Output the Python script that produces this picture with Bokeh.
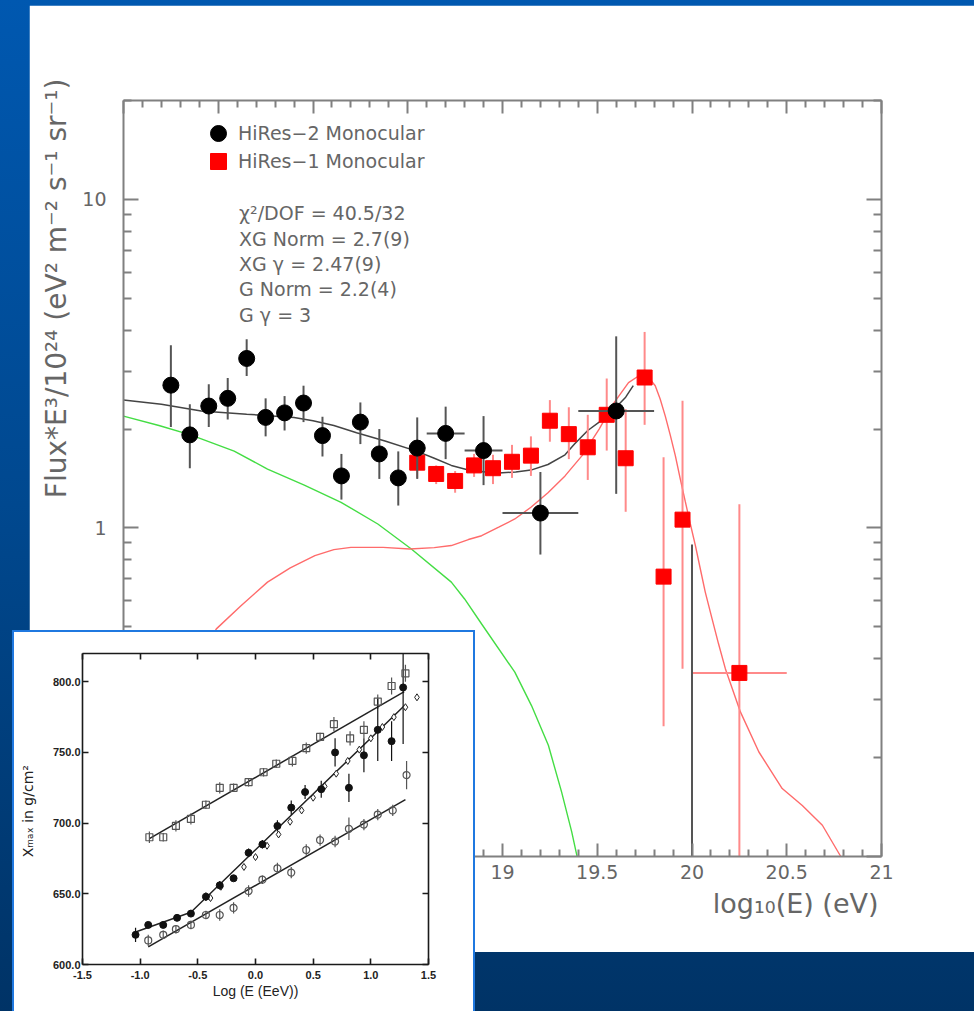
from bokeh.plotting import figure
from bokeh.models import (Range1d, FixedTicker, LinearAxis, LogAxis, Legend, LegendItem, Div, Column, Title)
from bokeh.core.properties import value
from bokeh.embed import file_html
from bokeh.resources import INLINE

# ---------------- main spectrum data ----------------
hr2_x = [17.25, 17.35, 17.45, 17.55, 17.65, 17.75, 17.85, 17.95, 18.05, 18.15, 18.25, 18.35, 18.45, 18.55,
         18.70, 18.90, 19.20, 19.60, 20.00]
hr2_y = [2.72, 1.92, 2.35, 2.48, 3.28, 2.17, 2.24, 2.40, 1.91, 1.44, 2.10, 1.68, 1.42, 1.75,
         1.94, 1.72, 1.11, 2.27, 0.05]
hr2_lo = [2.03, 1.52, 2.03, 2.14, 2.90, 1.90, 1.98, 2.10, 1.65, 1.22, 1.80, 1.41, 1.17, 1.41,
          1.62, 1.35, 0.83, 1.27, 0.01]
hr2_hi = [3.60, 2.38, 2.74, 2.86, 3.75, 2.48, 2.52, 2.71, 2.18, 1.68, 2.41, 2.00, 1.71, 2.17,
          2.34, 2.19, 1.48, 3.83, 0.89]
hr2_xerr = [0, 0, 0, 0, 0, 0, 0, 0, 0, 0, 0, 0, 0, 0, 0.1, 0.1, 0.2, 0.2, 0]

hr1_x = [18.55, 18.65, 18.75, 18.85, 18.95, 19.05, 19.15, 19.25, 19.35, 19.45, 19.55, 19.65, 19.75,
         19.85, 19.95, 20.25]
hr1_y = [1.58, 1.46, 1.39, 1.55, 1.52, 1.59, 1.66, 2.12, 1.93, 1.76, 2.21, 1.63, 2.87, 0.711, 1.06, 0.362]
hr1_lo = [1.42, 1.36, 1.28, 1.43, 1.36, 1.42, 1.44, 1.83, 1.62, 1.40, 1.72, 1.12, 2.06, 0.249, 0.373, 0.05]
hr1_hi = [1.67, 1.55, 1.49, 1.68, 1.67, 1.79, 1.90, 2.45, 2.33, 2.21, 2.85, 2.30, 3.95, 1.64, 2.44, 1.18]
hr1_xerr = [0, 0, 0, 0, 0, 0, 0, 0, 0, 0, 0, 0, 0, 0, 0, 0.25]

# fit curves (total, extragalactic XG component, galactic G component)
total_x = [17.0, 17.2, 17.41, 17.65, 17.90, 18.0, 18.11, 18.23, 18.38, 18.55, 18.64, 18.73, 18.82,
           18.91, 18.98, 19.07, 19.15, 19.24, 19.33, 19.38, 19.45, 19.51, 19.56, 19.59, 19.65, 19.69]
total_y = [2.45, 2.38, 2.27, 2.22, 2.17, 2.12, 2.05, 1.95, 1.84, 1.71, 1.63, 1.55, 1.50,
           1.48, 1.47, 1.48, 1.50, 1.56, 1.67, 1.80, 1.98, 2.10, 2.22, 2.30, 2.50, 2.71]

xg_x = [17.0, 17.2, 17.4, 17.49, 17.62, 17.76, 17.88, 18.01, 18.11, 18.20, 18.37, 18.51, 18.64, 18.73,
        18.82, 18.89, 18.98, 19.065, 19.15, 19.24, 19.33, 19.42, 19.51, 19.59, 19.665, 19.718, 19.735,
        19.771, 19.806, 19.832, 19.859, 19.885, 19.912, 19.938, 19.965, 19.991, 20.018, 20.044, 20.07,
        20.106, 20.14, 20.176, 20.256, 20.353, 20.476, 20.582, 20.688, 20.785, 20.85]
xg_y = [0.16, 0.26, 0.40, 0.493, 0.58, 0.684, 0.756, 0.824, 0.859, 0.873, 0.873, 0.863, 0.871, 0.884,
        0.922, 0.947, 1.005, 1.065, 1.156, 1.28, 1.44, 1.66, 2.0, 2.41, 2.77, 2.90, 2.92,
        2.87, 2.71, 2.47, 2.19, 1.92, 1.66, 1.41, 1.20, 1.03, 0.884, 0.75, 0.638,
        0.529, 0.444, 0.373, 0.275, 0.208, 0.161, 0.143, 0.1245, 0.10, 0.085]

g_x = [17.0, 17.187, 17.354, 17.584, 17.76, 17.954, 18.148, 18.342, 18.519, 18.73, 18.80, 18.889,
       19.065, 19.153, 19.242, 19.312, 19.365, 19.392, 19.407]
g_y = [2.19, 2.05, 1.92, 1.714, 1.51, 1.35, 1.197, 1.028, 0.863, 0.684, 0.608, 0.511,
       0.364, 0.288, 0.218, 0.157, 0.119, 0.101, 0.0857]

x_major = [17.0, 17.5, 18.0, 18.5, 19.0, 19.5, 20.0, 20.5, 21.0]
x_tick_labels = ["17", "17.5", "18", "18.5", "19", "19.5", "20", "20.5", "21"]
y_major = [0.1, 1.0, 10.0]
y_tick_labels = ["0.1", "1", "10"]

fit_text = ["\u03c7\u00b2/DOF = 40.5/32", "XG Norm = 2.7(9)", "XG \u03b3 = 2.47(9)",
            "G Norm = 2.2(4)", "G \u03b3 = 3"]
fit_text_y = [9.11, 7.60, 6.38, 5.33, 4.46]

# ---------------- inset Xmax data ----------------
sq_x = [-0.92, -0.80, -0.69, -0.56, -0.43, -0.31, -0.19, -0.06, 0.07, 0.18, 0.32, 0.44, 0.56, 0.68,
        0.82, 0.94, 1.06, 1.18, 1.30]
sq_y = [690, 690, 698, 703, 713, 725, 725, 729, 736, 742, 744, 753, 761, 770, 760, 766, 786, 797, 806]
sq_err = [4, 3, 4, 4, 3, 4, 3, 3, 3, 3, 4, 4, 3, 5, 5, 6, 5, 6, 6]

fc_x = [-1.04, -0.93, -0.80, -0.68, -0.56, -0.43, -0.31, -0.19, -0.06, 0.06, 0.19, 0.31, 0.43, 0.57,
        0.69, 0.81, 0.94, 1.06, 1.18, 1.28]
fc_y = [621, 628, 628, 633, 636, 648, 656, 661, 679, 685, 698, 711, 722, 724, 750, 725, 748, 766, 758, 796]
fc_err = [5, 2, 2, 2, 2, 3, 3, 2, 3, 3, 4, 5, 5, 6, 10, 10, 12, 22, 14, 40]

dm_x = [-0.39, -0.30, -0.10, 0.00, 0.10, 0.20, 0.30, 0.40, 0.50, 0.60, 0.70, 0.80, 0.90, 1.00,
        1.10, 1.20, 1.30, 1.40]
dm_y = [647, 655, 669, 676, 684, 692, 701, 709, 718, 726, 735, 744, 752, 760, 768, 775, 782, 789]

oc_x = [-0.93, -0.80, -0.69, -0.56, -0.43, -0.31, -0.19, -0.06, 0.06, 0.19, 0.31, 0.44, 0.56, 0.69,
        0.81, 0.94, 1.06, 1.19, 1.31]
oc_y = [617, 621, 625, 628, 635, 635, 640, 652, 660, 668, 665, 681, 688, 687, 696, 699, 706, 709, 734]
oc_err = [4, 3, 3, 3, 3, 4, 4, 4, 3, 4, 4, 4, 4, 4, 8, 4, 4, 4, 10]

fit_up_x = [-0.92, 1.29]
fit_up_y = [689, 793]
fit_mid_x = [-1.04, -0.56, 1.29]
fit_mid_y = [623, 637, 783]
fit_low_x = [-0.93, 1.30]
fit_low_y = [612.5, 716.6]

ix_major = [-1.5, -1.0, -0.5, 0.0, 0.5, 1.0, 1.5]
ix_tick_labels = ["-1.5", "-1.0", "-0.5", "0.0", "0.5", "1.0", "1.5"]
iy_major = [600, 650, 700, 750, 800]
iy_tick_labels = ["600.0", "650.0", "700.0", "750.0", "800.0"]

# ---------------- styling helpers ----------------
FONT = "DejaVu Sans"
TXT = "#666666"
AX = "#808080"


def style_axis(ax, color, width, major_in, minor_in):
    ax.axis_line_color = color
    ax.axis_line_width = width
    ax.major_tick_line_color = color
    ax.major_tick_line_width = width
    ax.minor_tick_line_color = color
    ax.minor_tick_line_width = width
    ax.major_tick_in = major_in
    ax.major_tick_out = 0
    ax.minor_tick_in = minor_in
    ax.minor_tick_out = 0


# ---------------- main figure ----------------
p = figure(width=945, height=947, x_range=Range1d(17, 21), y_range=Range1d(0.1, 20),
           y_axis_type="log", output_backend="svg", toolbar_location=None,
           min_border_left=94, min_border_right=93, min_border_top=95, min_border_bottom=96,
           background_fill_color="white", border_fill_color="white", outline_line_color=None,
           margin=(-1006, 0, 0, 29))
p.grid.visible = False

x_minor = [round(17 + 0.1 * i, 1) for i in range(41) if i % 5]
y_minor = [m * 10.0 ** k for k in (-1, 0, 1) for m in range(2, 10) if m * 10.0 ** k <= 20]

xa = p.below[0]
xa.ticker = FixedTicker(ticks=x_major, minor_ticks=x_minor)
xa.major_label_overrides = dict(zip(x_major, x_tick_labels))
style_axis(xa, AX, 2, 13, 7)
xa.major_label_text_font = FONT
xa.major_label_text_font_size = "19px"
xa.major_label_text_color = TXT
xa.major_label_standoff = 8

ya = p.left[0]
ya.ticker = FixedTicker(ticks=y_major, minor_ticks=y_minor)
ya.major_label_overrides = dict(zip(y_major, y_tick_labels))
style_axis(ya, AX, 2, 15, 8)
ya.major_label_text_font = FONT
ya.major_label_text_font_size = "19px"
ya.major_label_text_color = TXT
ya.major_label_standoff = 17

top_ax = LinearAxis(ticker=FixedTicker(ticks=x_major, minor_ticks=x_minor),
                    major_label_text_color=None, major_label_standoff=0)
style_axis(top_ax, AX, 2, 13, 7)
p.add_layout(top_ax, "above")
right_ax = LogAxis(ticker=FixedTicker(ticks=y_major, minor_ticks=y_minor),
                   major_label_text_color=None, major_label_standoff=0)
style_axis(right_ax, AX, 2, 15, 8)
p.add_layout(right_ax, "right")

# axis titles (placed at the frame ends like the original)
ytitle = Title(text="Flux*E\u00b3/10\u00b2\u2074 (eV\u00b2 m\u207b\u00b2 s\u207b\u00b9 sr\u207b\u00b9)",
               align="right", offset=-22, standoff=2, text_font=FONT, text_font_size="28px",
               text_font_style="normal", text_color=TXT)
p.add_layout(ytitle, "left")
xtitle = Title(text="log\u2081\u2080(E) (eV)", align="right", offset=3, standoff=9,
               text_font=FONT, text_font_size="27px", text_font_style="normal", text_color=TXT)
p.add_layout(xtitle, "below")

# curves
p.line(g_x, g_y, line_color="#44dd44", line_width=1.4)
p.line(xg_x, xg_y, line_color="#ff6b6b", line_width=1.4)
p.line(total_x, total_y, line_color="#444444", line_width=1.5)

# HiRes-1 (red squares)
hr1_x0 = [x - e for x, e in zip(hr1_x, hr1_xerr)]
hr1_x1 = [x + e for x, e in zip(hr1_x, hr1_xerr)]
p.segment(x0=hr1_x, x1=hr1_x, y0=hr1_lo, y1=hr1_hi, line_color="#ff8a8a", line_width=2)
p.segment(x0=hr1_x0, x1=hr1_x1, y0=hr1_y, y1=hr1_y, line_color="#ff8a8a", line_width=2)
r_hr1 = p.scatter(hr1_x, hr1_y, marker="square", size=15, fill_color="#ff0000", line_color="#ff0000")

# HiRes-2 (black circles)
hr2_x0 = [x - e for x, e in zip(hr2_x, hr2_xerr)]
hr2_x1 = [x + e for x, e in zip(hr2_x, hr2_xerr)]
p.segment(x0=hr2_x, x1=hr2_x, y0=hr2_lo, y1=hr2_hi, line_color="#555555", line_width=2)
p.segment(x0=hr2_x0, x1=hr2_x1, y0=hr2_y, y1=hr2_y, line_color="#555555", line_width=2)
r_hr2 = p.scatter(hr2_x, hr2_y, marker="circle", size=16, fill_color="black", line_color="black")

# fit parameter text
p.text(x=[17.61] * len(fit_text), y=fit_text_y, text=fit_text, text_font=value(FONT),
       text_font_size="19px", text_color=TXT, text_baseline="middle", text_align="left")

# legends
for item_label, rend, loc in (("HiRes\u22122 Monocular", r_hr2, (75, 703)),
                              ("HiRes\u22121 Monocular", r_hr1, (75, 675))):
    leg = Legend(items=[LegendItem(label=item_label, renderers=[rend])], location=loc,
                 glyph_width=40, glyph_height=40, label_height=40, label_standoff=0,
                 padding=0, margin=0, spacing=0, border_line_color=None,
                 background_fill_alpha=0, label_text_font=FONT, label_text_font_size="19px",
                 label_text_color=TXT)
    p.add_layout(leg)

# ---------------- inset figure ----------------
IF = "Liberation Sans"
q = figure(frame_width=346, frame_height=311, x_range=Range1d(-1.5, 1.5), y_range=Range1d(600, 820),
           output_backend="svg", toolbar_location=None,
           min_border_left=68, min_border_right=45, min_border_top=21, min_border_bottom=47,
           background_fill_color="white", border_fill_alpha=0.0, outline_line_color=None,
           margin=(-379, 0, 0, -12))
q.grid.visible = False

qx = q.below[0]
qx.ticker = FixedTicker(ticks=ix_major)
qx.major_label_overrides = dict(zip(ix_major, ix_tick_labels))
style_axis(qx, "#1a1a1a", 1.6, 6, 0)
qx.major_label_text_font = IF
qx.major_label_text_font_size = "11px"
qx.major_label_text_font_style = "bold"
qx.major_label_text_color = "#222222"
qx.major_label_standoff = 6
qx.axis_label = "Log (E (EeV))"
qx.axis_label_text_font = IF
qx.axis_label_text_font_size = "14px"
qx.axis_label_text_font_style = "normal"
qx.axis_label_text_color = "#222222"
qx.axis_label_standoff = 1

qy = q.left[0]
qy.ticker = FixedTicker(ticks=iy_major)
qy.major_label_overrides = dict(zip(iy_major, iy_tick_labels))
style_axis(qy, "#1a1a1a", 1.6, 6, 0)
qy.major_label_text_font = IF
qy.major_label_text_font_size = "11px"
qy.major_label_text_font_style = "bold"
qy.major_label_text_color = "#222222"
qy.major_label_standoff = 2
qy.axis_label = "X\u2098\u2090\u2093  in g/cm\u00b2"
qy.axis_label_text_font = "DejaVu Sans"
qy.axis_label_text_font_size = "14px"
qy.axis_label_text_font_style = "normal"
qy.axis_label_text_color = "#222222"
qy.axis_label_standoff = 14

qt = LinearAxis(ticker=FixedTicker(ticks=ix_major), major_label_text_color=None, major_label_standoff=0)
style_axis(qt, "#1a1a1a", 1.6, 6, 0)
q.add_layout(qt, "above")
qr = LinearAxis(ticker=FixedTicker(ticks=iy_major), major_label_text_color=None, major_label_standoff=0)
style_axis(qr, "#1a1a1a", 1.6, 6, 0)
q.add_layout(qr, "right")

# fit lines
q.line(fit_up_x, fit_up_y, line_color="#222222", line_width=1.5)
q.line(fit_mid_x, fit_mid_y, line_color="#222222", line_width=1.5)
q.line(fit_low_x, fit_low_y, line_color="#222222", line_width=1.5)

# error bars
q.segment(x0=sq_x, x1=sq_x, y0=[y - e for y, e in zip(sq_y, sq_err)],
          y1=[y + e for y, e in zip(sq_y, sq_err)], line_color="#555555", line_width=1.2)
q.segment(x0=oc_x, x1=oc_x, y0=[y - e for y, e in zip(oc_y, oc_err)],
          y1=[y + e for y, e in zip(oc_y, oc_err)], line_color="#555555", line_width=1.2)
q.segment(x0=fc_x, x1=fc_x, y0=[y - e for y, e in zip(fc_y, fc_err)],
          y1=[y + e for y, e in zip(fc_y, fc_err)], line_color="#111111", line_width=1.2)

q.scatter(sq_x, sq_y, marker="square", size=7, fill_color="white", fill_alpha=0.0,
          line_color="#555555", line_width=1.2)
q.scatter(oc_x, oc_y, marker="circle", size=7, fill_color="white", fill_alpha=0.0,
          line_color="#555555", line_width=1.2)
q.scatter(dm_x, dm_y, marker="diamond", size=7, fill_color="white", line_color="#222222",
          line_width=1.0)
q.scatter(fc_x, fc_y, marker="circle", size=7, fill_color="#111111", line_color="#111111")

# ---------------- page composition ----------------
bg = Div(text="", width=974, height=1011, margin=(0, 0, 0, 0),
         styles={"background": "linear-gradient(180deg, #0058b0 0%, #00488f 50%, #003366 100%)"})
box = Div(text="", width=463, height=381, margin=(-322, 0, 0, 12),
          styles={"background": "white", "border": "2px solid #1f78e0", "border-bottom": "none",
                  "box-sizing": "border-box"})

page = Column(children=[bg, p, box, q], spacing=0)

open("out.html", "w").write(file_html(page, INLINE))
